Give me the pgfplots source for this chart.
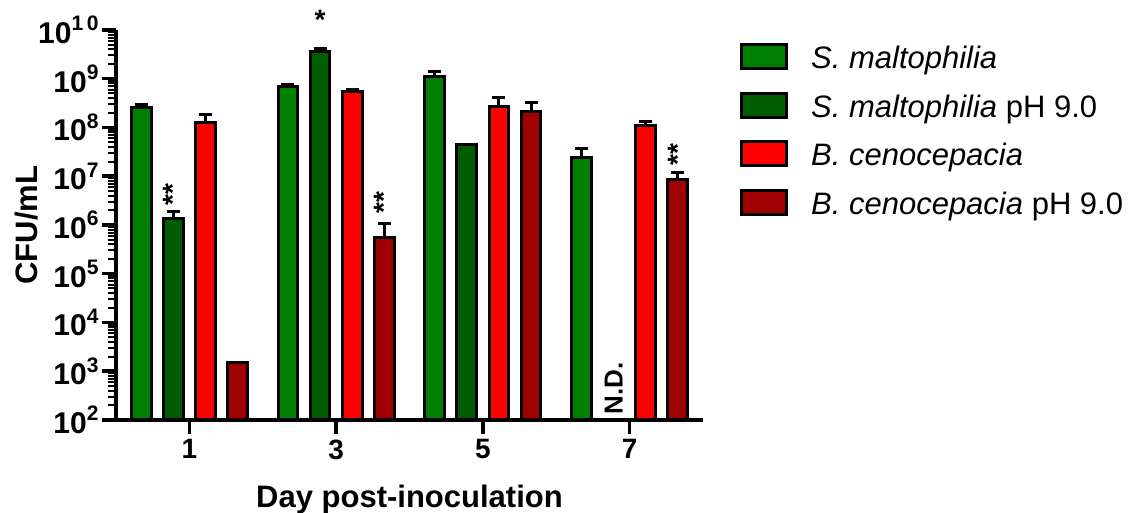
\documentclass[border=0pt]{standalone}
\usepackage{fontspec}
\setmainfont{Liberation Sans}
\usepackage{pgfplots}
\pgfplotsset{compat=1.18}
\definecolor{cgreen}{HTML}{008000}
\definecolor{cdkgreen}{HTML}{005C00}
\definecolor{cred}{HTML}{FF0000}
\definecolor{cdkred}{HTML}{A00000}
\newcommand{\tl}[1]{10\raisebox{0.42em}{\fontsize{21}{21}\selectfont\bfseries #1}}
\begin{document}
\begin{tikzpicture}
\begin{axis}[name=ax,
  scale only axis, width=587pt, height=390pt,
  ymode=log, ymin=1e2, ymax=1e10, log origin=infty,
  xmin=0, xmax=8,
  axis x line*=bottom, axis y line*=left,
  axis line style={-, line width=3.5pt},
  xtick={1,3,5,7}, xticklabels={1,3,5,7},
  ytick={1e2,1e3,1e4,1e5,1e6,1e7,1e8,1e9,1e10},
  yticklabels={\tl{2},\tl{3},\tl{4},\tl{5},\tl{6},\tl{7},\tl{8},\tl{9},\tl{1\,0}},
  tick align=outside, major tick length=14pt, minor tick length=8pt,
  tick style={black, line width=3.5pt},
  minor tick style={black, line width=2pt},
  tick label style={font=\bfseries\fontsize{30}{32}\selectfont},
  xticklabel style={yshift=-2pt, font=\bfseries\fontsize{28}{30}\selectfont},
  xlabel={Day post-inoculation},
  ylabel={CFU/mL},
  xlabel style={at={(axis description cs:0.5,-0.2256)}, anchor=base},
  ylabel style={at={(axis description cs:-0.153,0.5)}, anchor=center},
  label style={font=\bfseries\fontsize{31}{36}\selectfont},
  ybar, bar width=0.27,
  clip=false,
  legend image code/.code={\draw[#1,draw=black,line width=3pt] (0pt,-8pt) rectangle (45pt,16pt);},
  legend cell align=left,
  legend style={at={(axis description cs:1.063,0.9667)}, anchor=north west,
    draw=none, fill=none, inner sep=0pt, row sep=17pt,
    font=\fontsize{31}{36}\selectfont,
    nodes={inner sep=0pt, text height=22pt, text depth=6pt},
    /tikz/every odd column/.append style={column sep=23pt}},
  error bars/y dir=plus, error bars/y explicit,
  error bars/error bar style={line width=3pt, black},
  error bars/error mark options={black, mark size=6.5pt, line width=3pt, rotate=90},
]
\addplot[fill=cgreen, draw=black, line width=3pt, bar shift=-0.657]
  coordinates {(1,2.6e8) +- (0,0.35e8) (3,6.8e8) +- (0,1.0e8) (5,1.1e9) +- (0,0.33e9) (7,2.46e7) +- (0,1.3e7)};
\addlegendentry{\textit{S. maltophilia}}
\addplot[fill=cdkgreen, draw=black, line width=3pt, bar shift=-0.219]
  coordinates {(1,1.38e6) +- (0,0.55e6) (3,3.55e9) +- (0,0.55e9) (5,4.4e7) +- (0,0)};
\addlegendentry{\textit{S. maltophilia} pH 9.0}
\addplot[fill=cred, draw=black, line width=3pt, bar shift=0.219]
  coordinates {(1,1.29e8) +- (0,0.6e8) (3,5.4e8) +- (0,0.5e8) (5,2.75e8) +- (0,1.45e8) (7,1.12e8) +- (0,0.18e8)};
\addlegendentry{\textit{B. cenocepacia}}
\addplot[fill=cdkred, draw=black, line width=3pt, bar shift=0.657]
  coordinates {(1,1.48e3) +- (0,0) (3,5.6e5) +- (0,4.9e5) (5,2.1e8) +- (0,1.1e8) (7,8.7e6) +- (0,3.0e6)};
\addlegendentry{\textit{B. cenocepacia} pH 9.0}
\node[rotate=90, font=\bfseries\fontsize{28}{28}\selectfont] at (axis cs:0.781,4.2e6) {**};
\node[rotate=90, font=\bfseries\fontsize{28}{28}\selectfont] at (axis cs:3.657,2.9e6) {**};
\node[rotate=90, font=\bfseries\fontsize{28}{28}\selectfont] at (axis cs:7.657,2.8e7) {**};
\node[font=\bfseries\fontsize{28}{28}\selectfont] at (axis cs:2.781,1.6e10) {*};
\node[rotate=90, font=\bfseries\fontsize{26}{26}\selectfont] at (axis cs:6.781,4.4e2) {N.D.};
\end{axis}
\pgfresetboundingbox
\useasboundingbox (ax.south west) ++(-116pt,-93pt) rectangle ++(1136pt,513pt);
\end{tikzpicture}
\end{document}
